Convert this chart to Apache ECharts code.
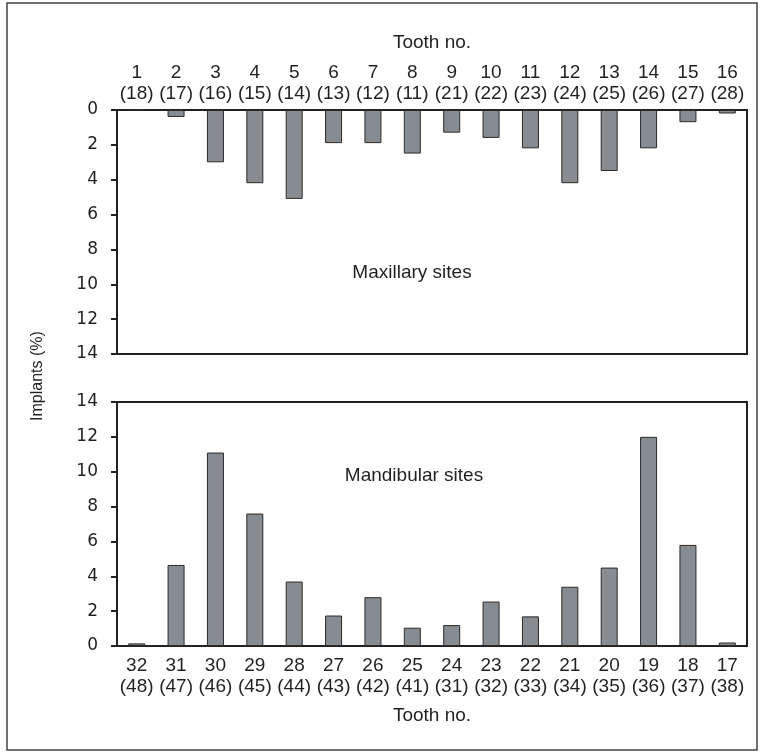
<!DOCTYPE html>
<html><head><meta charset="utf-8">
<script src="https://cdn.jsdelivr.net/npm/echarts@6/dist/echarts.min.js"></script>
<style>html,body{margin:0;padding:0;background:#fff}#c{width:764px;height:754px}</style>
</head><body><div id="c"></div><script>
const maxTeeth = ['1','2','3','4','5','6','7','8','9','10','11','12','13','14','15','16'];
const maxFDI = ['18','17','16','15','14','13','12','11','21','22','23','24','25','26','27','28'];
const maxValues = [0, 0.4, 3.0, 4.2, 5.1, 1.9, 1.9, 2.5, 1.3, 1.6, 2.2, 4.2, 3.5, 2.2, 0.7, 0.2];
const mandTeeth = ['32','31','30','29','28','27','26','25','24','23','22','21','20','19','18','17'];
const mandFDI = ['48','47','46','45','44','43','42','41','31','32','33','34','35','36','37','38'];
const mandValues = [0.15, 4.65, 11.1, 7.6, 3.7, 1.75, 2.8, 1.05, 1.2, 2.55, 1.7, 3.4, 4.5, 12.0, 5.8, 0.2];
const yMin = 0, yMax = 14, yStep = 2;
const xTitle = 'Tooth no.';
const yTitle = 'Implants (%)';
const topPanel = 'Maxillary sites';
const bottomPanel = 'Mandibular sites';

const maxCats = maxTeeth.map((t, i) => t + '\n(' + maxFDI[i] + ')');
const mandCats = mandTeeth.map((t, i) => t + '\n(' + mandFDI[i] + ')');

const txt = '#231f20';
const lab = "'Liberation Sans', Arial, sans-serif";
const num = "'DejaVu Sans', Verdana, sans-serif";
const barStyle = { color: '#878c91', borderColor: '#2a2a2a', borderWidth: 1 };

const chart = echarts.init(document.getElementById('c'), null, { renderer: 'canvas' });
const yAxisCommon = {
  type: 'value', min: yMin, max: yMax, interval: yStep,
  axisLine: { show: true, lineStyle: { color: '#222', width: 2 } },
  axisTick: { show: true, inside: false, length: 6, lineStyle: { color: '#222', width: 2 } },
  axisLabel: { color: txt, fontFamily: num, fontSize: 17, margin: 19 },
  splitLine: { show: false }
};
const xAxisCommon = {
  type: 'category',
  axisLine: { show: true, lineStyle: { color: '#222', width: 2 } },
  axisTick: { show: false },
  axisLabel: { color: txt, fontFamily: lab, fontSize: 19, lineHeight: 21, interval: 0 },
  nameLocation: 'middle',
  nameTextStyle: { color: txt, fontFamily: lab, fontSize: 19 }
};
chart.setOption({
  animation: false,
  backgroundColor: '#fff',
  grid: [
    { left: 117, top: 110, width: 630, height: 244, show: true, borderColor: '#222', borderWidth: 2, containLabel: false, outerBoundsMode: 'none' },
    { left: 117, top: 402, width: 630, height: 244, show: true, borderColor: '#222', borderWidth: 2, containLabel: false, outerBoundsMode: 'none' }
  ],
  xAxis: [
    Object.assign({}, xAxisCommon, { gridIndex: 0, position: 'top', data: maxCats, name: xTitle, nameGap: 58,
      axisLabel: Object.assign({}, xAxisCommon.axisLabel, { margin: 6 }) }),
    Object.assign({}, xAxisCommon, { gridIndex: 1, position: 'bottom', data: mandCats, name: xTitle, nameGap: 60,
      axisLabel: Object.assign({}, xAxisCommon.axisLabel, { margin: 9 }) })
  ],
  yAxis: [
    Object.assign({}, yAxisCommon, { gridIndex: 0, inverse: true }),
    Object.assign({}, yAxisCommon, { gridIndex: 1 })
  ],
  series: [
    { type: 'bar', xAxisIndex: 0, yAxisIndex: 0, data: maxValues, barWidth: 17, itemStyle: barStyle },
    { type: 'bar', xAxisIndex: 1, yAxisIndex: 1, data: mandValues, barWidth: 17, itemStyle: barStyle }
  ],
  graphic: [
    { type: 'rect', shape: { x: 7, y: 3, width: 750, height: 747 }, style: { fill: 'none', stroke: '#444', lineWidth: 1.5 }, silent: true },
    { type: 'text', x: 38, y: 376, rotation: Math.PI / 2, style: { text: yTitle, fill: txt, font: "16px 'Liberation Sans', Arial, sans-serif", textAlign: 'center', textVerticalAlign: 'middle' } },
    { type: 'text', x: 412, y: 273, style: { text: topPanel, fill: txt, font: "19px 'Liberation Sans', Arial, sans-serif", textAlign: 'center', textVerticalAlign: 'middle' } },
    { type: 'text', x: 414, y: 476, style: { text: bottomPanel, fill: txt, font: "19px 'Liberation Sans', Arial, sans-serif", textAlign: 'center', textVerticalAlign: 'middle' } }
  ]
});
</script></body></html>
